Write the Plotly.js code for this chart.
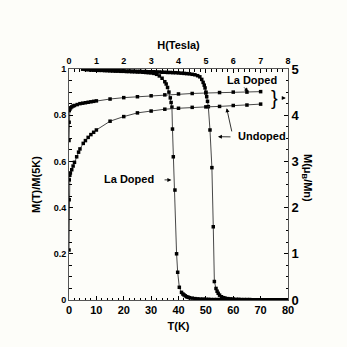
<!DOCTYPE html>
<html><head><meta charset="utf-8">
<script src="https://cdn.plot.ly/plotly-3.0.1.min.js"></script>
<style>html,body{margin:0;padding:0;background:#fdfdf9;}#chart{width:347px;height:347px;}</style>
</head><body><div id="chart"></div>
<script>
// M(T)/M(5K) vs T, La doped
const T_la = [5,6,7,8,9,10,11,12,13,14,15,16,17,18,19,20,21,22,23,24,25,26,27,28,29,30,31,32,33,34,35,35.5,36,36.5,37,37.3,37.6,37.8,38.1,38.7,39.3,39.7,40.3,41.1,41.6,42,42.5,43,43.5,44,45,46,47,48,49,50,51,52,53,54,55,56,57,58,59,60,61,62,63,64,65,66,67,68,69,70,71,72,73,74,75,76,77,78,79,80];
const M_la = [1.000,0.998,0.997,0.996,0.995,0.995,0.994,0.994,0.993,0.993,0.992,0.992,0.991,0.991,0.990,0.990,0.989,0.989,0.988,0.988,0.987,0.987,0.986,0.985,0.984,0.983,0.981,0.977,0.970,0.960,0.945,0.935,0.920,0.900,0.875,0.855,0.835,0.740,0.620,0.476,0.200,0.120,0.055,0.033,0.026,0.022,0.018,0.014,0.012,0.010,0.008,0.006,0.005,0.004,0.004,0.003,0.003,0.002,0.002,0.002,0.002,0.001,0.001,0.001,0.001,0.001,0.001,0.001,0.001,0.001,0.001,0.001,0.001,0.001,0.001,0.001,0.001,0.001,0.001,0.001,0.001,0.001,0.001,0.001,0.001,0.001];
// M(T)/M(5K) vs T, undoped
const T_un = [5,6,7,8,9,10,11,12,13,14,15,16,17,18,19,20,21,22,23,24,25,26,27,28,29,30,31,32,33,34,35,36,37,38,39,40,41,42,43,44,45,46,47,47.8,48.5,49,49.4,49.7,50,50.3,50.6,50.9,51.5,52.2,52.7,53.1,53.7,54.1,54.5,55,55.7,56.5,57,58,59,60,61,62,63,64,65,66,67,68,69,70,71,72,73,74,75,76,77,78,79,80];
const M_un = [1.000,0.999,0.998,0.997,0.997,0.996,0.996,0.995,0.995,0.994,0.994,0.993,0.993,0.993,0.992,0.992,0.991,0.991,0.991,0.990,0.990,0.990,0.989,0.989,0.988,0.988,0.988,0.987,0.987,0.986,0.986,0.985,0.985,0.984,0.984,0.983,0.982,0.981,0.980,0.979,0.977,0.975,0.971,0.966,0.955,0.942,0.930,0.918,0.900,0.880,0.860,0.837,0.736,0.573,0.317,0.080,0.050,0.038,0.029,0.021,0.014,0.010,0.008,0.006,0.005,0.004,0.003,0.003,0.002,0.002,0.002,0.002,0.001,0.001,0.001,0.001,0.001,0.001,0.001,0.001,0.001,0.001,0.001,0.001,0.001,0.001];
// M (muB/Mn) vs H (Tesla)
const H_la = [0,0.005,0.01,0.03,0.06,0.1,0.15,0.2,0.3,0.4,0.5,0.6,0.7,0.8,0.9,1.0,1.5,2.0,2.5,3.0,3.5,4.0,4.5,5.0,5.5,6.0,6.5,7.0];
const MH_la = [3.45,3.85,4.10,4.13,4.16,4.18,4.20,4.21,4.23,4.25,4.26,4.27,4.28,4.29,4.30,4.31,4.35,4.38,4.40,4.42,4.44,4.46,4.47,4.48,4.49,4.50,4.50,4.51];
const H_un = [0,0.005,0.01,0.03,0.05,0.1,0.15,0.2,0.28,0.35,0.4,0.52,0.6,0.7,0.8,0.9,1.0,1.5,2.0,2.5,3.0,3.5,4.0,4.5,5.0,5.5,6.0,6.5,7.0];
const MH_un = [1.08,2.17,2.60,2.70,2.75,2.82,2.90,2.98,3.10,3.20,3.27,3.39,3.45,3.52,3.58,3.63,3.68,3.87,3.97,4.05,4.09,4.13,4.15,4.17,4.18,4.19,4.21,4.22,4.24];

const mk = {symbol:'square', size:3.5, color:'#000'};
const ln = {color:'#333', width:0.9};
const data = [
  {x:T_la, y:M_la, mode:'lines+markers', marker:mk, line:ln, xaxis:'x', yaxis:'y', showlegend:false},
  {x:T_un, y:M_un, mode:'lines+markers', marker:mk, line:ln, xaxis:'x', yaxis:'y', showlegend:false},
  {x:H_la, y:MH_la, mode:'lines+markers', marker:mk, line:ln, xaxis:'x2', yaxis:'y2', showlegend:false},
  {x:H_un, y:MH_un, mode:'lines+markers', marker:mk, line:ln, xaxis:'x2', yaxis:'y2', showlegend:false}
];
const F = 'Liberation Sans, Arial, sans-serif';
const bold = (s)=>({family:F, size:s, color:'#000', weight:'bold'});
function arrow(hx,hy,tx,ty){return {x:hx,y:hy,ax:tx,ay:ty,xref:'x',yref:'y',axref:'x',ayref:'y',text:' ',showarrow:true,arrowhead:2,arrowsize:1,arrowwidth:0.8,arrowcolor:'#000',font:{size:6}};}
const layout = {
  width:347, height:347,
  margin:{l:69, r:59, t:69, b:47},
  paper_bgcolor:'#fdfdf9', plot_bgcolor:'#fdfdf9',
  xaxis:{range:[0,80], tickvals:[0,10,20,30,40,50,60,70,80], ticks:'inside', ticklen:4, tickcolor:'#000',
         minor:{dtick:2, ticks:'inside', ticklen:2.5, tickcolor:'#000'},
         showline:true, linecolor:'#555', linewidth:1, showgrid:false, zeroline:false,
         tickfont:bold(11), title:{text:'T(K)', font:bold(11), standoff:7}},
  xaxis2:{range:[0,8], overlaying:'x', side:'top', tickvals:[0,1,2,3,4,5,6,7,8], ticks:'inside', ticklen:4, tickcolor:'#000',
         minor:{dtick:0.2, ticks:'inside', ticklen:2.5, tickcolor:'#000'},
         showline:true, linecolor:'#555', linewidth:1, showgrid:false, zeroline:false,
         tickfont:bold(9), title:{text:'H(Tesla)', font:bold(11), standoff:4}},
  yaxis:{range:[0,1], tickvals:[0,0.2,0.4,0.6,0.8,1], ticktext:['0','0.2','0.4','0.6','0.8','1'], ticks:'inside', ticklen:4, tickcolor:'#000',
         minor:{dtick:0.05, ticks:'inside', ticklen:2.5, tickcolor:'#000'},
         showline:true, linecolor:'#555', linewidth:1, showgrid:false, zeroline:false,
         tickfont:bold(9), title:{text:'M(T)/M(5K)', font:bold(11), standoff:10}},
  yaxis2:{range:[0,5], overlaying:'y', side:'right', tickvals:[0,1,2,3,4,5], ticks:'inside', ticklen:4, tickcolor:'#000',
         minor:{dtick:0.25, ticks:'inside', ticklen:2.5, tickcolor:'#000'},
         showline:true, linecolor:'#555', linewidth:1, showgrid:false, zeroline:false,
         tickfont:bold(13)},
  annotations:[
    {x:66.8, y:0.952, xref:'x', yref:'y', text:'La Doped', showarrow:false, font:bold(11)},
    arrow(65.5,0.902,63.1,0.931),
    {x:75.2, y:0.876, xref:'x', yref:'y', text:'}', showarrow:false, font:{family:F,size:20,color:'#000'}},
    arrow(79.2,0.874,76.8,0.874),
    {x:70.5, y:0.71, xref:'x', yref:'y', text:'Undoped', showarrow:false, font:bold(11)},
    arrow(54.4,0.707,59.9,0.706),
    arrow(57.6,0.83,59.9,0.706),
    {x:21.9, y:0.524, xref:'x', yref:'y', text:'La Doped', showarrow:false, font:bold(11)},
    arrow(37.4,0.52,34,0.52),
    {x:(316-69)/219, y:(300-178)/231, xref:'paper', yref:'paper', text:'M(μ<sub>B</sub>/Mn)', showarrow:false, textangle:90, font:bold(11)}
  ]
};
Plotly.newPlot('chart', data, layout, {displayModeBar:false, staticPlot:true});
</script></body></html>
